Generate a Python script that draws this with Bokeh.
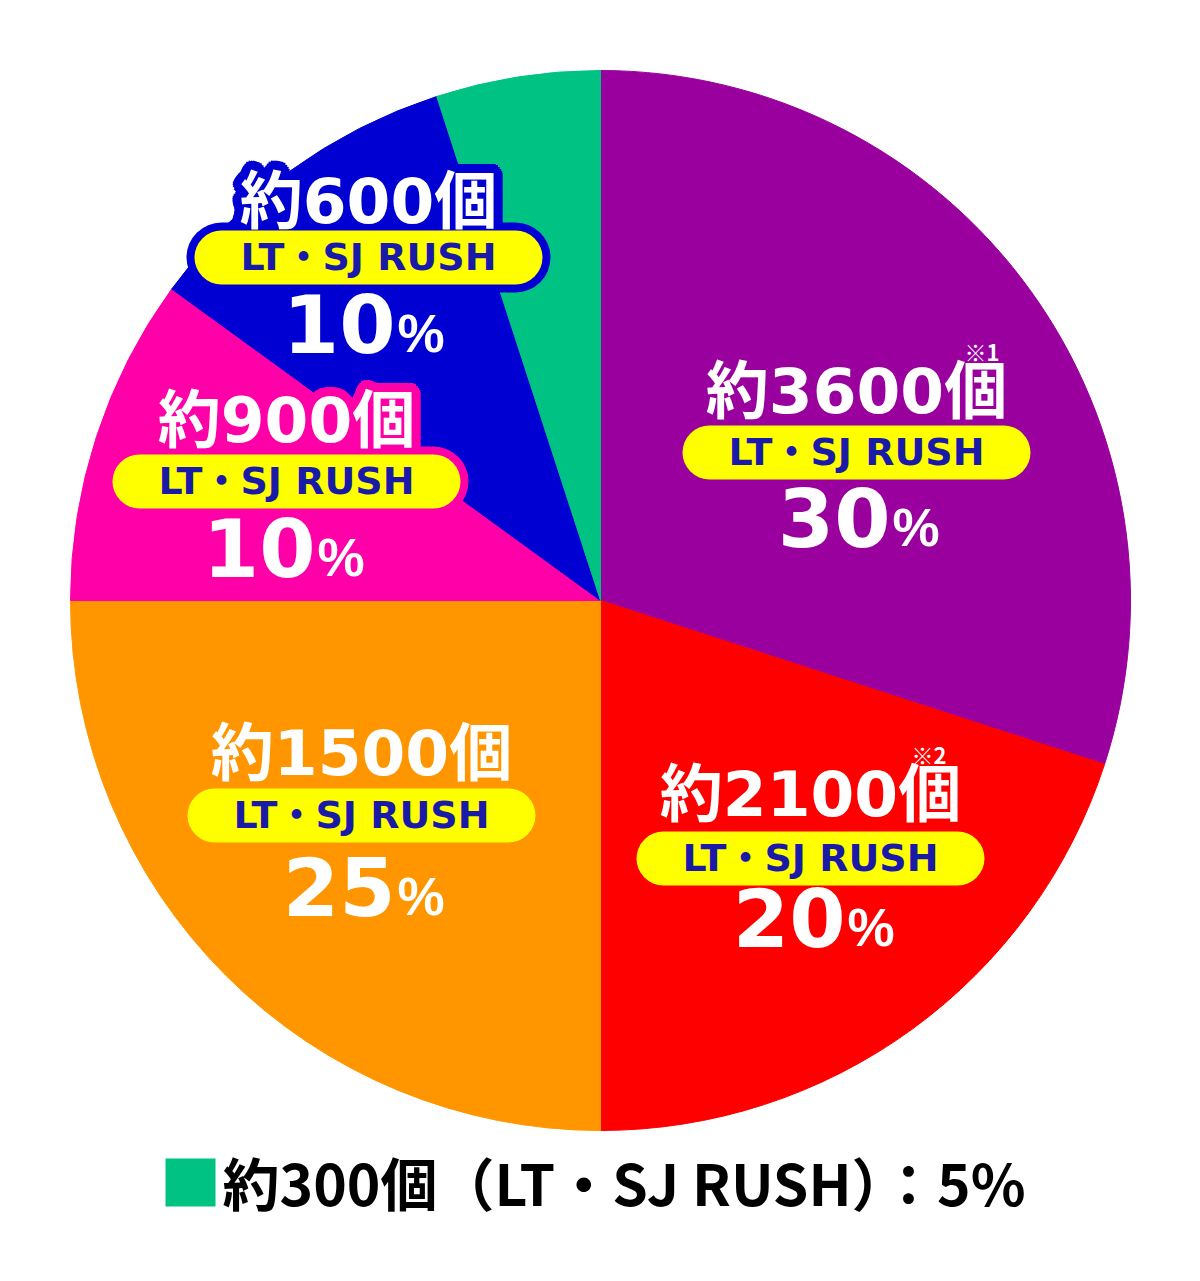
import math
from bokeh.plotting import figure
from bokeh.models import ColumnDataSource, Range1d
from bokeh.core.properties import value
from bokeh.embed import file_html
from bokeh.resources import INLINE

# ---------------- data ----------------
counts = ["約3600個", "約2100個", "約1500個", "約900個", "約600個", "約300個"]
percents = [30, 20, 25, 10, 10, 5]
rush_label = "LT・SJ RUSH"
colors = ["#9a009e", "#ff0000", "#ff9600", "#ff00a8", "#0000d2", "#00c282"]
notes = ["※1", "※2", "", "", "", ""]
legend_text = "約300個（LT・SJ RUSH）：5%"

# ---------------- layout ----------------
W, H = 1200, 1281
CX, CY, R = 600, 600, 530        # pie centre / radius in pixel space (y down)


def Y(py):
    return H - py


# per labelled slice: centre x, count baseline, pill centre y, pct split x, pct baseline,
# note x, note baseline
label_layout = [
    (856, 411, 452, 890, 547, 964, 357),
    (810, 814, 858, 845, 947, 911, 760),
    (361, 773, 815, 395, 916, None, None),
    (286, 440, 481, 315, 577, None, None),
    (368, 221, 257, 395, 353, None, None),
]
PILL_HALF = 147
PILL_H = 54
# empirical baseline corrections (px) for the renderer
ADJ_COUNT, ADJ_PILL, ADJ_PCT, ADJ_PCTSIGN, ADJ_NOTE, ADJ_LEG = 20, 16, 30, 20, 7, 24

p = figure(width=W, height=H, x_range=Range1d(0, W), y_range=Range1d(0, H),
           output_backend="svg", toolbar_location=None,
           x_axis_location=None, y_axis_location=None, min_border=0)
p.grid.visible = False
p.outline_line_color = None
p.background_fill_color = "white"
p.border_fill_color = "white"

# wedges (clockwise from 12 o'clock)
total = sum(percents)
starts, ends = [], []
cum = 0
for v in percents:
    a0 = math.pi / 2 - 2 * math.pi * (cum + v) / total
    a1 = math.pi / 2 - 2 * math.pi * cum / total
    starts.append(a0)
    ends.append(a1)
    cum += v
src = ColumnDataSource(dict(start=starts, end=ends, color=colors))
p.wedge(x=CX, y=Y(CY), radius=R, start_angle="start", end_angle="end",
        direction="anticlock", fill_color="color", line_color="color",
        line_width=1, source=src)

count_font = value("DejaVu Sans, Noto Sans CJK JP")
pill_font = value("DejaVu Sans, Noto Sans CJK JP")

offsets = []
for rr in (3, 6, 9):
    for k in range(24):
        t = 2 * math.pi * k / 24
        offsets.append((rr * math.cos(t), rr * math.sin(t)))

for i, (cx, cb, pcy, split, pb, nx, nb) in enumerate(label_layout):
    col = colors[i]
    cb -= ADJ_COUNT
    # halo of pill
    p.segment(x0=[cx - PILL_HALF], y0=[Y(pcy)], x1=[cx + PILL_HALF], y1=[Y(pcy)],
              line_color=col, line_width=PILL_H + 16, line_cap="round")
    # halo of count text
    p.text(x=[cx + dx for dx, dy in offsets], y=[Y(cb) + dy for dx, dy in offsets],
           text=[counts[i]] * len(offsets), text_color=col, text_font=count_font,
           text_font_size="63px", text_font_style="bold", text_align="center",
           text_baseline="alphabetic")
    p.text(x=[cx], y=[Y(cb)], text=[counts[i]], text_color="white",
           text_font=count_font, text_font_size="63px", text_font_style="bold",
           text_align="center", text_baseline="alphabetic")
    # pill
    p.segment(x0=[cx - PILL_HALF], y0=[Y(pcy)], x1=[cx + PILL_HALF], y1=[Y(pcy)],
              line_color="#ffff00", line_width=PILL_H, line_cap="round")
    p.text(x=[cx], y=[Y(pcy + 15 - ADJ_PILL)], text=[rush_label], text_color="#1a1aa8",
           text_font=pill_font, text_font_size="38px", text_font_style="bold",
           text_align="center", text_baseline="alphabetic")
    # percentage
    p.text(x=[split], y=[Y(pb - ADJ_PCT)], text=[str(percents[i])], text_color="white",
           text_font=value("DejaVu Sans"), text_font_size="81px",
           text_font_style="bold", text_align="right", text_baseline="alphabetic")
    p.text(x=[split + 2], y=[Y(pb - ADJ_PCTSIGN)], text=["%"], text_color="white",
           text_font=value("Liberation Sans"), text_font_size="53px",
           text_font_style="bold", text_align="left", text_baseline="alphabetic")
    if notes[i]:
        p.text(x=[nx], y=[Y(nb - ADJ_NOTE)], text=[notes[i]], text_color="white",
               text_font=value("Noto Sans CJK JP"), text_font_size="22px",
               text_font_style="bold", text_align="left", text_baseline="alphabetic")

# legend for the small slice
p.quad(left=[165], right=[215], top=[Y(1158)], bottom=[Y(1206)],
       fill_color=colors[5], line_color=None)
p.text(x=[222], y=[Y(1204 - ADJ_LEG)], text=[legend_text], text_color="black",
       text_font=value("Noto Sans CJK JP"), text_font_size="57px",
       text_font_style="bold", text_align="left", text_baseline="alphabetic")

open("out.html", "w").write(file_html(p, INLINE))
